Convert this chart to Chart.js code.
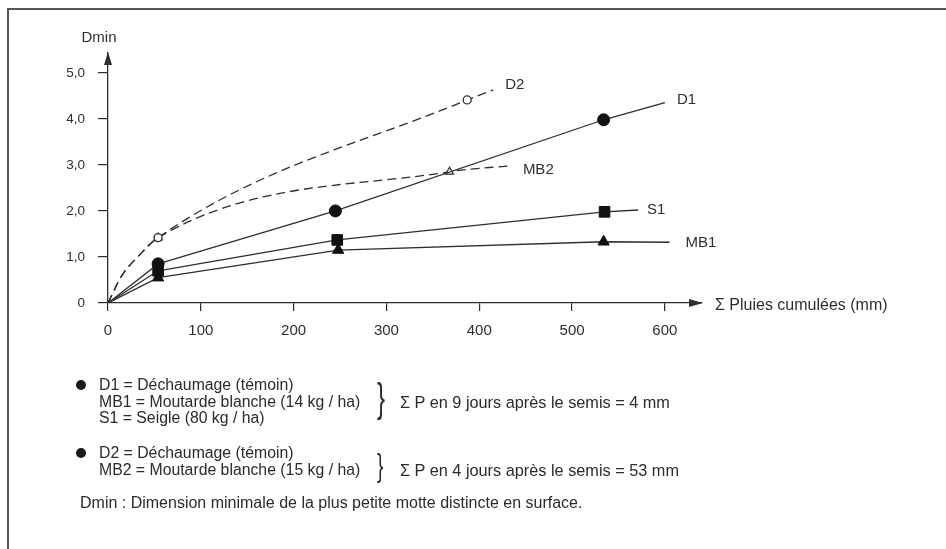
<!DOCTYPE html>
<html><head><meta charset="utf-8">
<script src="https://cdn.jsdelivr.net/npm/chart.js@4.4.1/dist/chart.umd.min.js"></script>
<style>
html,body{margin:0;padding:0;background:#fff;}
#wrap{position:relative;width:946px;height:549px;overflow:hidden;background:#fff;}
#c{position:absolute;left:0;top:0;}
.frameTop{position:absolute;left:7px;top:8px;width:939px;height:0;border-top:2px solid #555;}
.frameLeft{position:absolute;left:7px;top:8px;width:0;height:541px;border-left:2px solid #555;}
.note{position:absolute;font-family:'Liberation Sans',Arial,sans-serif;color:#2b2b2b;font-size:15.8px;line-height:16.5px;white-space:nowrap;}
.dot{position:absolute;width:10px;height:10px;border-radius:50%;background:#1a1a1a;}
.brace{position:absolute;font-family:'Liberation Sans',Arial,sans-serif;color:#2b2b2b;transform-origin:left top;transform:scaleX(0.6);white-space:nowrap;}
</style></head>
<body><div id="wrap">
<canvas id="c" width="946" height="549"></canvas>
<div class="frameTop"></div><div class="frameLeft"></div>

<div class="dot" style="left:76px;top:380px;"></div>
<div class="note" style="left:99px;top:377px;">D1 = Déchaumage (témoin)<br>MB1 = Moutarde blanche (14 kg / ha)<br>S1 = Seigle (80 kg / ha)</div>
<div class="brace" style="left:377px;top:378px;font-size:40px;line-height:40px;">}</div>
<div class="note" style="left:400px;top:393px;font-size:16.3px;line-height:18px;">Σ P en 9 jours après le semis = 4 mm</div>

<div class="dot" style="left:76px;top:448px;"></div>
<div class="note" style="left:99px;top:445px;">D2 = Déchaumage (témoin)<br>MB2 = Moutarde blanche (15 kg / ha)</div>
<div class="brace" style="left:377px;top:449px;font-size:32px;line-height:32px;">}</div>
<div class="note" style="left:400px;top:461px;font-size:16.3px;line-height:18px;">Σ P en 4 jours après le semis = 53 mm</div>

<div class="note" style="left:80px;top:494px;font-size:16px;line-height:18px;">Dmin : Dimension minimale de la plus petite motte distincte en surface.</div>
</div>
<script>
// ---- data ----
const xTicks = [0, 100, 200, 300, 400, 500, 600];
const xTickLabels = ['0', '100', '200', '300', '400', '500', '600'];
const yTicks = [0, 1, 2, 3, 4, 5];
const yTickLabels = ['0', '1,0', '2,0', '3,0', '4,0', '5,0'];

const d1X = [0, 54, 245, 534, 600];
const d1Y = [0, 0.85, 2.0, 3.98, 4.35];
const d1Marks = [1, 2, 3];

const s1X = [0, 54, 247, 535, 571];
const s1Y = [0, 0.70, 1.37, 1.98, 2.02];
const s1Marks = [1, 2, 3];

const mb1X = [0, 54, 248, 534, 605];
const mb1Y = [0, 0.55, 1.15, 1.33, 1.32];
const mb1Marks = [1, 2, 3];

const d2X = [0, 15, 32, 54, 387, 415];
const d2Y = [0, 0.60, 1.00, 1.42, 4.41, 4.63];
const d2Marks = [3, 4];

const mb2X = [0, 15, 32, 54, 368, 433];
const mb2Y = [0, 0.60, 1.00, 1.42, 2.85, 2.98];
const mb2Marks = [3, 4];

const seriesNames = ['D1', 'S1', 'MB1', 'D2', 'MB2'];
// ------------------------------------

const INK = '#2e2e2e';
Chart.defaults.font.family = "'Liberation Sans', Arial, sans-serif";
Chart.defaults.color = INK;

function pts(xs, ys) { return xs.map((x, i) => ({x: x, y: ys[i]})); }
function mk(marks, r) { return c => marks.includes(c.dataIndex) ? r : 0; }

function solid(label, xs, ys, marks, style, r) {
  return {
    label: label, data: pts(xs, ys), showLine: true, tension: 0,
    borderColor: INK, borderWidth: 1.3, backgroundColor: '#111',
    pointStyle: style, pointRadius: mk(marks, r), pointBackgroundColor: '#111',
    pointBorderColor: '#111', pointBorderWidth: 1, pointHoverRadius: 0
  };
}
function dashed(label, xs, ys, marks, style, r) {
  return {
    label: label, data: pts(xs, ys), showLine: true, cubicInterpolationMode: 'monotone',
    borderColor: INK, borderWidth: 1.3, borderDash: [9, 5],
    pointStyle: style, pointRadius: mk(marks, r), pointBackgroundColor: '#fff',
    pointBorderColor: INK, pointBorderWidth: 1.3, pointHoverRadius: 0
  };
}

const labelOffsets = {D1: [12, -3], S1: [9, 0], MB1: [16, 1], D2: [12, -5], MB2: [13, 4]};

const annot = {
  id: 'annot',
  afterDraw(chart) {
    const ctx = chart.ctx, a = chart.chartArea;
    ctx.save();
    ctx.fillStyle = INK;
    // y arrow
    ctx.beginPath();
    ctx.moveTo(a.left, a.top - 1);
    ctx.lineTo(a.left - 4, a.top + 12);
    ctx.lineTo(a.left + 4, a.top + 12);
    ctx.closePath(); ctx.fill();
    // x arrow
    ctx.beginPath();
    ctx.moveTo(a.right + 1, a.bottom);
    ctx.lineTo(a.right - 13, a.bottom - 4);
    ctx.lineTo(a.right - 13, a.bottom + 4);
    ctx.closePath(); ctx.fill();
    // axis titles
    ctx.font = "15px 'Liberation Sans', Arial, sans-serif";
    ctx.textBaseline = 'middle';
    ctx.textAlign = 'center';
    ctx.fillText('Dmin', a.left - 9, a.top - 15);
    ctx.textAlign = 'left';
    ctx.font = "16px 'Liberation Sans', Arial, sans-serif";
    ctx.fillText('Σ Pluies cumulées (mm)', a.right + 13, a.bottom + 3);
    // series labels at line ends
    ctx.font = "15px 'Liberation Sans', Arial, sans-serif";
    chart.data.datasets.forEach((ds, i) => {
      const meta = chart.getDatasetMeta(i);
      const last = meta.data[meta.data.length - 1];
      const off = labelOffsets[ds.label];
      ctx.fillText(ds.label, last.x + off[0], last.y + off[1]);
    });
    ctx.restore();
  }
};

new Chart(document.getElementById('c'), {
  type: 'scatter',
  data: {
    datasets: [
      solid(seriesNames[0], d1X, d1Y, d1Marks, 'circle', 6),
      solid(seriesNames[1], s1X, s1Y, s1Marks, 'rect', 7.5),
      solid(seriesNames[2], mb1X, mb1Y, mb1Marks, 'triangle', 6.5),
      dashed(seriesNames[3], d2X, d2Y, d2Marks, 'circle', 4),
      dashed(seriesNames[4], mb2X, mb2Y, mb2Marks, 'triangle', 4.5)
    ]
  },
  options: {
    responsive: false, animation: false,
    layout: {padding: {left: 0, top: 53, right: 244, bottom: 206}},
    plugins: {legend: {display: false}, tooltip: {enabled: false}},
    scales: {
      x: {
        type: 'linear', min: 0, max: 640,
        afterBuildTicks: s => { s.ticks = xTicks.map(v => ({value: v})); },
        afterFit: s => { s.height = 40; },
        grid: {drawOnChartArea: false, drawTicks: true, tickLength: 8, color: INK, lineWidth: 1.2},
        border: {display: true, color: INK, width: 1.3},
        ticks: {color: INK, font: {size: 15}, padding: 11, maxRotation: 0,
                callback: v => xTickLabels[xTicks.indexOf(v)]}
      },
      y: {
        type: 'linear', min: 0, max: 5.43,
        afterBuildTicks: s => { s.ticks = yTicks.map(v => ({value: v})); },
        afterFit: s => { s.width = 108; },
        grid: {drawOnChartArea: false, drawTicks: true, tickLength: 10, color: INK, lineWidth: 1.2},
        border: {display: true, color: INK, width: 1.3},
        ticks: {color: INK, font: {size: 13.5}, padding: 13,
                callback: v => yTickLabels[yTicks.indexOf(v)]}
      }
    }
  },
  plugins: [annot]
});
</script>
</body></html>
